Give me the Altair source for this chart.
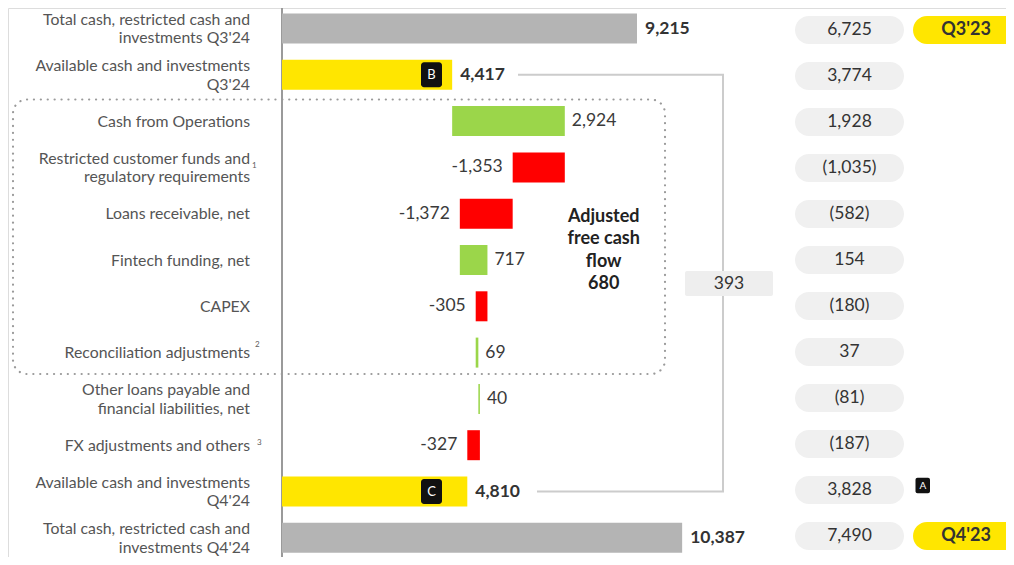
import altair as alt
import pandas as pd

# ---------------- data ----------------
categories = [
    "Total cash, restricted cash and\ninvestments Q3'24",
    "Available cash and investments\nQ3'24",
    "Cash from Operations",
    "Restricted customer funds and\nregulatory requirements",
    "Loans receivable, net",
    "Fintech funding, net",
    "CAPEX",
    "Reconciliation adjustments",
    "Other loans payable and\nfinancial liabilities, net",
    "FX adjustments and others",
    "Available cash and investments\nQ4'24",
    "Total cash, restricted cash and\ninvestments Q4'24",
]
kinds = ["total", "avail", "delta", "delta", "delta", "delta", "delta",
         "delta", "delta", "delta", "avail", "total"]
values = [9215, 4417, 2924, -1353, -1372, 717, -305, 69, 40, -327, 4810, 10387]
prior_values = [6725, 3774, 1928, -1035, -582, 154, -180, 37, -81, -187, 3828, 7490]
footnotes = ["", "", "", "1", "", "", "", "2", "", "3", "", ""]
badge_rows = [1, 10]
badge_letters = ["B", "C"]
tag_rows = [0, 11]
tag_texts = ["Q3'23", "Q4'23"]
afcf_rows = [2, 3, 4, 5, 6, 7]

# ---------------- layout helpers ----------------
FONT = "Lato"
W, H = 998, 549
K = 0.038524      # px per unit
X0 = 274.0        # px of value 0
ROW0 = 20.5       # px centre of first row
STEP = 46.3       # px between rows
LAB_LH = 18.5     # line height of row labels
LAB_OFF = 0.5     # labels sit slightly below bar centre
VAL_FS = 17.5


def xv(px):
    return (px - X0) / K


def yr(px):
    return (px - ROW0) / STEP


xscale = alt.Scale(domain=[xv(0), xv(W)], nice=False, zero=False)
yscale = alt.Scale(domain=[yr(0), yr(H)], nice=False, zero=False, reverse=True)


def X(f):
    return alt.X(f, type="quantitative", scale=xscale, axis=None)


def Y(f):
    return alt.Y(f, type="quantitative", scale=yscale, axis=None)


COLORS = {"total": "#b4b4b4", "avail": "#ffe600", "pos": "#9bd64a", "neg": "#ff0000"}

# ---------------- waterfall table ----------------
recs = []
running = 0
for i, (lab, k, v) in enumerate(zip(categories, kinds, values)):
    if k in ("total", "avail"):
        start, end = 0, v
        if k == "avail":
            running = v
        col = COLORS[k]
        grp = "tot"
    else:
        start, end = running, running + v
        running = end
        col = COLORS["pos"] if v >= 0 else COLORS["neg"]
        grp = "pos" if v >= 0 else "neg"
    hb = 15 / STEP
    nl = lab.count("\n") + 1
    recs.append(dict(row=i, label=lab,
                     ly=i + (LAB_OFF - (nl - 1) * LAB_LH / 2) / STEP,
                     start=start, end=end, y0=i - hb, y1=i + hb,
                     color=col, grp=grp, vtxt=f"{v:,}"))
df = pd.DataFrame(recs)

bars = alt.Chart(df).mark_rect().encode(
    x=X("start"), x2="end", y=Y("y0"), y2="y1",
    color=alt.Color("color:N", scale=None))

lab_tot = alt.Chart(df[df.grp == "tot"]).mark_text(
    align="left", baseline="middle", dx=8, fontSize=VAL_FS, fontWeight="bold",
    font=FONT, color="#333333").encode(x=X("end"), y=Y("row"), text="vtxt:N")
lab_pos = alt.Chart(df[df.grp == "pos"]).mark_text(
    align="left", baseline="middle", dx=7, fontSize=VAL_FS,
    font=FONT, color="#3a3a3a").encode(x=X("end"), y=Y("row"), text="vtxt:N")
lab_neg = alt.Chart(df[df.grp == "neg"]).mark_text(
    align="right", baseline="middle", dx=-10, fontSize=VAL_FS,
    font=FONT, color="#3a3a3a").encode(x=X("end"), y=Y("row"), text="vtxt:N")

row_labels = alt.Chart(df).mark_text(
    align="right", baseline="middle", lineBreak="\n", lineHeight=LAB_LH,
    fontSize=15.8, font=FONT, color="#555555").encode(
    x=alt.value(242), y=Y("ly"), text="label:N")

# footnote superscripts (chart px)
fn_px = {3: (244, 158), 7: (247, 337), 9: (249, 435)}
fn_df = pd.DataFrame([dict(x=xv(fn_px[i][0]), y=yr(fn_px[i][1]), t=footnotes[i])
                      for i in range(len(footnotes)) if footnotes[i]])
fns = alt.Chart(fn_df).mark_text(
    align="left", baseline="middle", fontSize=8, font=FONT, color="#606060").encode(
    x=X("x"), y=Y("y"), text="t:N")

# axis line
axis_df = pd.DataFrame([dict(x=0, y=yr(-5), y2=yr(560))])
axis_rule = alt.Chart(axis_df).mark_rule(color="#9a9a9a", strokeWidth=2).encode(
    x=X("x"), y=Y("y"), y2="y2")

# dotted adjusted-FCF frame
frame_df = pd.DataFrame([dict(x=xv(5), x2=xv(657), y=yr(91.5), y2=yr(366))])
frame = alt.Chart(frame_df).mark_rect(
    fillOpacity=0, stroke="#9a9a9a", strokeWidth=2.2, strokeDash=[0.1, 6.8],
    strokeCap="round", cornerRadius=14).encode(x=X("x"), x2="x2", y=Y("y"), y2="y2")

afcf = sum(values[i] for i in afcf_rows)
AF_LH = 22.5
afcf_df = pd.DataFrame([dict(y=yr(208.7), t=f"Adjusted\nfree cash\nflow\n{afcf:,}")])
afcf_text = alt.Chart(afcf_df).mark_text(
    align="center", baseline="middle", lineBreak="\n", lineHeight=AF_LH,
    fontSize=18, fontWeight="bold", font=FONT, color="#222222").encode(
    x=alt.value(595.7), y=Y("y"), text="t:N")

# bracket between available-cash rows
r1, r2 = badge_rows
br_df = pd.DataFrame(dict(x=[xv(510), xv(715), xv(715), xv(529)],
                          y=[r1, r1, r2, r2], o=[0, 1, 2, 3]))
bracket = alt.Chart(br_df).mark_line(color="#cccccc", strokeWidth=2).encode(
    x=X("x"), y=Y("y"), order="o:Q")

diff = values[r2] - values[r1]
box_df = pd.DataFrame([dict(y=yr(263), y2=yr(288), yc=yr(275.5), t=f"{diff:,}")])
box = alt.Chart(box_df).mark_rect(fill="#eeeeee", cornerRadius=2).encode(
    x=alt.value(677), x2=alt.value(765), y=Y("y"), y2="y2")
box_txt = alt.Chart(box_df).mark_text(
    align="center", baseline="middle", fontSize=VAL_FS, font=FONT, color="#333333").encode(
    x=alt.value(721), y=Y("yc"), text="t:N")

# badges B / C
bd_df = pd.DataFrame(dict(row=badge_rows, t=badge_letters))
bd_df["y0"] = bd_df.row - 12.5 / STEP
bd_df["y1"] = bd_df.row + 12.5 / STEP
badge_rect = alt.Chart(bd_df).mark_rect(fill="#111111", cornerRadius=3).encode(
    x=alt.value(413), x2=alt.value(434), y=Y("y0"), y2="y1")
badge_txt = alt.Chart(bd_df).mark_text(
    align="center", baseline="middle", fontSize=13, font=FONT, color="white").encode(
    x=alt.value(423.5), y=Y("row"), text="t:N")

# badge A
ba_df = pd.DataFrame([dict(y0=yr(469.7), y1=yr(485.3), yc=yr(477.8), t="A")])
badgeA_rect = alt.Chart(ba_df).mark_rect(fill="#111111", cornerRadius=2).encode(
    x=alt.value(907.5), x2=alt.value(922), y=Y("y0"), y2="y1")
badgeA_txt = alt.Chart(ba_df).mark_text(
    align="center", baseline="middle", fontSize=10, font=FONT, color="white").encode(
    x=alt.value(914.8), y=Y("yc"), text="t:N")

# prior-year pills
pr = []
for i, v in enumerate(prior_values):
    c = yr(22 + 46.0 * i)
    pr.append(dict(row=i, yc=c, y0=c - 14 / STEP, y1=c + 14 / STEP,
                   t=f"{v:,}" if v >= 0 else f"({-v:,})"))
pr_df = pd.DataFrame(pr)
pills = alt.Chart(pr_df).mark_rect(fill="#f0f0f0", cornerRadius=14).encode(
    x=alt.value(787), x2=alt.value(896), y=Y("y0"), y2="y1")
pill_txt = alt.Chart(pr_df).mark_text(
    align="center", baseline="middle", fontSize=VAL_FS, font=FONT, color="#333333").encode(
    x=alt.value(841.5), y=Y("yc"), text="t:N")

tag_df = pr_df[pr_df.row.isin(tag_rows)].copy()
tag_df["t"] = tag_texts
tags = alt.Chart(tag_df).mark_rect(fill="#ffe600", cornerRadius=14).encode(
    x=alt.value(905), x2=alt.value(1012), y=Y("y0"), y2="y1")
tag_txt = alt.Chart(tag_df).mark_text(
    align="center", baseline="middle", fontSize=18, fontWeight="bold", font=FONT,
    color="#333333").encode(x=alt.value(958), y=Y("yc"), text="t:N")

chart = alt.layer(
    frame, axis_rule, bracket, box, box_txt, bars, badge_rect, badge_txt,
    lab_tot, lab_pos, lab_neg, row_labels, fns, afcf_text,
    pills, pill_txt, tags, tag_txt, badgeA_rect, badgeA_txt,
).properties(
    width=W, height=H, padding=0,
    autosize=alt.AutoSizeParams(type="none"),
).configure_view(stroke=None).configure(background="white")

chart.save("out.html", embed_options={"renderer": "svg", "actions": False})
